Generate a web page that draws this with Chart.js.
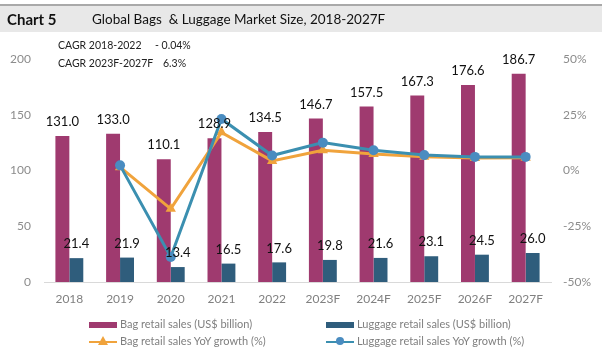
<!DOCTYPE html>
<html>
<head>
<meta charset="utf-8">
<script src="https://cdn.jsdelivr.net/npm/chart.js@4"></script>
<style>
    body { margin: 0; width: 602px; height: 352px; background: #fff; position: relative; overflow: hidden; font-family: Lato, 'Open Sans', sans-serif; }
    #header { position: absolute; left: 0; top: 4px; width: 602px; height: 28px; background: #e8e8e8; border-top: 2px solid #a9a9a9; box-sizing: border-box; }
    #header .num { position: absolute; left: 7px; top: 4px; font-weight: bold; font-size: 15px; color: #111; }
    #header .title { position: absolute; left: 92px; top: 5px; font-size: 13.5px; color: #111; white-space: pre; }
    .cagr { position: absolute; left: 58px; font-size: 10.5px; color: #222; white-space: pre; }
    .cagr span { position: absolute; }
    #wrap { position: absolute; left: 0; top: 0; width: 602px; height: 352px; }
    .leg { position: absolute; font-size: 11px; color: #7f7f7f; white-space: nowrap; }
    .leg .sw { position: absolute; left: 0; width: 28px; }
    .leg .txt { position: absolute; left: 31px; top: -8px; }
</style>
</head>
<body>
<div id="wrap"><canvas id="marketChart" width="602" height="352"></canvas></div>
<div id="header">
    <div class="num">Chart 5</div>
    <div class="title">Global Bags  &amp; Luggage Market Size, 2018-2027F</div>
</div>
<div class="cagr" style="top: 39px;">CAGR 2018-2022<span style="left: 97px;">- 0.04%</span></div>
<div class="cagr" style="top: 57px;">CAGR 2023F-2027F<span style="left: 105px;">6.3%</span></div>
<div id="legend"></div>
<script>
const years = ['2018', '2019', '2020', '2021', '2022', '2023F', '2024F', '2025F', '2026F', '2027F'];
const bagSales = [131.0, 133.0, 110.1, 128.9, 134.5, 146.7, 157.5, 167.3, 176.6, 186.7];
const luggageSales = [21.4, 21.9, 13.4, 16.5, 17.6, 19.8, 21.6, 23.1, 24.5, 26.0];
const bagGrowth = [null, 1.5, -17.2, 17.1, 4.3, 9.1, 7.4, 6.2, 5.6, 5.7];
const luggageGrowth = [null, 2.3, -38.8, 23.1, 6.7, 12.5, 9.1, 6.9, 6.1, 6.1];
const salesTicks = [0, 50, 100, 150, 200];
const growthTicks = [-50, -25, 0, 25, 50];

const BAG = '#9f3a6f';
const LUG = '#2f5d7c';
const BAG_LINE = '#f0a33c';
const LUG_LINE = '#3b8fb0';

// value labels above the bars
const barLabels = {
    id: 'barLabels',
    afterDatasetsDraw(chart) {
        const ctx = chart.ctx;
        ctx.save();
        ctx.font = '13px Lato, sans-serif';
        ctx.fillStyle = '#111';
        ctx.textAlign = 'center';
        ctx.textBaseline = 'middle';
        chart.data.datasets.forEach((ds, i) => {
            if (ds.type !== 'bar') return;
            chart.getDatasetMeta(i).data.forEach((bar, j) => {
                ctx.fillText(ds.data[j].toFixed(1), bar.x, bar.y - 14);
            });
        });
        ctx.restore();
    }
};

const ctx = document.getElementById('marketChart').getContext('2d');
const chart = new Chart(ctx, {
    data: {
        labels: years,
        datasets: [
            {
                type: 'line',
                label: 'Luggage retail sales YoY growth (%)',
                data: luggageGrowth,
                yAxisID: 'y1',
                borderColor: LUG_LINE,
                backgroundColor: '#4a8cc0',
                borderWidth: 3,
                pointRadius: 5,
                pointBorderWidth: 0,
                order: 0
            },
            {
                type: 'line',
                label: 'Bag retail sales YoY growth (%)',
                data: bagGrowth,
                yAxisID: 'y1',
                borderColor: BAG_LINE,
                backgroundColor: BAG_LINE,
                borderWidth: 3,
                pointStyle: 'triangle',
                pointRadius: 6,
                pointBorderWidth: 0,
                order: 1
            },
            {
                type: 'bar',
                label: 'Bag retail sales (US$ billion)',
                data: bagSales,
                yAxisID: 'y',
                backgroundColor: BAG,
                barPercentage: 1,
                categoryPercentage: 0.55,
                order: 2
            },
            {
                type: 'bar',
                label: 'Luggage retail sales (US$ billion)',
                data: luggageSales,
                yAxisID: 'y',
                backgroundColor: LUG,
                barPercentage: 1,
                categoryPercentage: 0.55,
                order: 2
            }
        ]
    },
    options: {
        responsive: false,
        animation: false,
        layout: { padding: { top: 59, bottom: 42, left: 0, right: 0 } },
        plugins: {
            legend: { display: false },
            tooltip: { enabled: false }
        },
        scales: {
            x: {
                grid: { display: false, drawTicks: false },
                border: { display: true, color: '#d9d9d9', width: 1 },
                ticks: { color: '#808080', font: { size: 12, family: 'Lato' }, padding: 10 },
                afterFit(scale) { scale.height = 28; }
            },
            y: {
                position: 'left',
                min: 0,
                max: 200,
                grid: { display: false, drawTicks: false },
                border: { display: false },
                afterBuildTicks(scale) { scale.ticks = salesTicks.map(v => ({ value: v })); },
                ticks: { color: '#8c8c8c', font: { size: 12, family: 'Lato' }, padding: 13 },
                afterFit(scale) { scale.width = 44; }
            },
            y1: {
                position: 'right',
                min: -50,
                max: 50,
                grid: { display: false, drawTicks: false },
                border: { display: false },
                afterBuildTicks(scale) { scale.ticks = growthTicks.map(v => ({ value: v })); },
                ticks: {
                    color: '#8c8c8c',
                    font: { size: 12, family: 'Lato' },
                    padding: 12,
                    callback: function(v) { return v + '%'; }
                },
                afterFit(scale) { scale.width = 51; }
            }
        }
    },
    plugins: [barLabels]
});

function renderLegend() {
    const el = document.getElementById('legend');
    // [dataset index, column x, row y, swatch kind]
    const items = [
        [2, 89, 325, 'box'],
        [3, 326, 325, 'box'],
        [1, 89, 342, 'tri'],
        [0, 326, 342, 'dot']
    ];
    el.innerHTML = items.map(([i, x, y, kind]) => {
        const ds = chart.data.datasets[i];
        let sw;
        if (kind === 'box') {
            sw = `<div class="sw" style="top:-3px;height:6px;background:${ds.backgroundColor}"></div>`;
        } else {
            const c = ds.borderColor;
            const marker = kind === 'tri'
                ? `<div style="position:absolute;left:9px;top:-5px;width:0;height:0;border-left:5px solid transparent;border-right:5px solid transparent;border-bottom:9px solid ${c}"></div>`
                : `<div style="position:absolute;left:10px;top:-4px;width:8px;height:8px;border-radius:50%;background:${ds.backgroundColor}"></div>`;
            sw = `<div class="sw" style="top:-1px;height:2px;background:${c}">${marker}</div>`;
        }
        return `<div class="leg" style="left:${x}px;top:${y}px">${sw}<div class="txt">${ds.label}</div></div>`;
    }).join('');
}

renderLegend();
</script>
</body>
</html>
